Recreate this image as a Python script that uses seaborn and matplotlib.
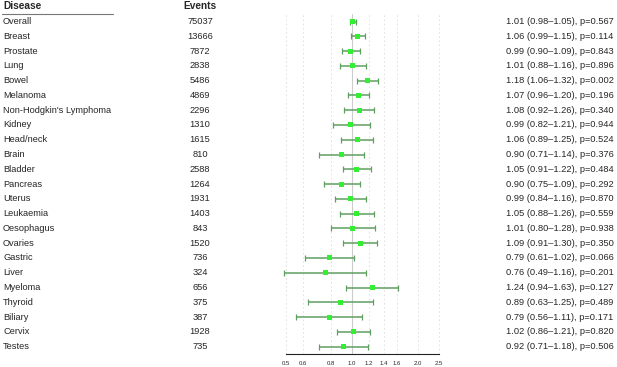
import numpy as np
import pandas as pd
import seaborn as sns
import matplotlib.pyplot as plt
from matplotlib.transforms import blended_transform_factory

# 資料
diseases = ["Overall", "Breast", "Prostate", "Lung", "Bowel", "Melanoma",
            "Non-Hodgkin's Lymphoma", "Kidney", "Head/neck", "Brain", "Bladder",
            "Pancreas", "Uterus", "Leukaemia", "Oesophagus", "Ovaries", "Gastric",
            "Liver", "Myeloma", "Thyroid", "Biliary", "Cervix", "Testes"]
events = [75037, 13666, 7872, 2838, 5486, 4869, 2296, 1310, 1615, 810, 2588,
          1264, 1931, 1403, 843, 1520, 736, 324, 656, 375, 387, 1928, 735]
hr = [1.01, 1.06, 0.99, 1.01, 1.18, 1.07, 1.08, 0.99, 1.06, 0.90, 1.05,
      0.90, 0.99, 1.05, 1.01, 1.09, 0.79, 0.76, 1.24, 0.89, 0.79, 1.02, 0.92]
lower = [0.98, 0.99, 0.90, 0.88, 1.06, 0.96, 0.92, 0.82, 0.89, 0.71, 0.91,
         0.75, 0.84, 0.88, 0.80, 0.91, 0.61, 0.49, 0.94, 0.63, 0.56, 0.86, 0.71]
upper = [1.05, 1.15, 1.09, 1.16, 1.32, 1.20, 1.26, 1.21, 1.25, 1.14, 1.22,
         1.09, 1.16, 1.26, 1.28, 1.30, 1.02, 1.16, 1.63, 1.25, 1.11, 1.21, 1.18]
pvals = [0.567, 0.114, 0.843, 0.896, 0.002, 0.196, 0.340, 0.944, 0.524, 0.376, 0.484,
         0.292, 0.870, 0.559, 0.938, 0.350, 0.066, 0.201, 0.127, 0.489, 0.171, 0.820, 0.506]
xticks = [0.5, 0.6, 0.8, 1.0, 1.2, 1.4, 1.6, 2.0, 2.5]

df = pd.DataFrame({"disease": diseases, "events": events, "hr": hr,
                   "lower": lower, "upper": upper, "p": pvals})
df["row"] = np.arange(len(df))

sns.set_style("white")
plt.rcParams["font.family"] = ["Liberation Sans", "DejaVu Sans"]
fs = 6.7

fig = plt.figure(figsize=(6.17, 3.67), dpi=100)
ax = fig.add_axes([0.4567, 0.0354, 0.2583, 0.926])

# 格線
for t in xticks:
    if t == 1.0:
        ax.axvline(t, color="#cccccc", lw=0.8, zorder=0)
    else:
        ax.axvline(t, color="#dddddd", lw=0.6, ls=(0, (2, 3)), zorder=0)

# 信賴區間
ax.errorbar(df["hr"], df["row"],
            xerr=[df["hr"] - df["lower"], df["upper"] - df["hr"]],
            fmt="none", ecolor="#5f9f5f", elinewidth=1.1, capsize=2.0,
            capthick=0.9, zorder=2)
sns.scatterplot(data=df, x="hr", y="row", marker="s", s=13, color="#33ee33",
                edgecolor="none", ax=ax, zorder=3)

ax.set_xscale("log")
ax.set_xlim(0.48, 2.55)
ax.set_ylim(len(df) - 0.5, -0.5)
ax.set_xticks(xticks)
ax.set_xticklabels([f"{t:.1f}" for t in xticks], fontsize=4.3)
ax.minorticks_off()
ax.set_yticks([])
ax.set_xlabel("")
ax.set_ylabel("")
for s in ["top", "right", "left"]:
    ax.spines[s].set_visible(False)
ax.spines["bottom"].set_bounds(0.5, 2.5)
ax.spines["bottom"].set_linewidth(0.8)
ax.spines["bottom"].set_color("#222222")
ax.tick_params(axis="x", direction="out", length=3, width=0.8, pad=2, color="#222222")

# 文字欄位
tr = blended_transform_factory(fig.transFigure, ax.transData)
for i, r in df.iterrows():
    ax.text(3 / 617, r["row"], r["disease"], transform=tr, fontsize=fs,
            ha="left", va="center", clip_on=False)
    ax.text(200 / 617, r["row"], str(r["events"]), transform=tr, fontsize=fs,
            ha="center", va="center", clip_on=False)
    ax.text(506 / 617, r["row"],
            f"{r['hr']:.2f} ({r['lower']:.2f}\u2013{r['upper']:.2f}), p={r['p']:.3f}",
            transform=tr, fontsize=fs, ha="left", va="center", clip_on=False)

fig.text(3 / 617, 1 - 6 / 367, "Disease", fontsize=fs + 0.6, fontweight="bold",
         ha="left", va="center")
fig.text(200 / 617, 1 - 6 / 367, "Events", fontsize=fs + 0.6, fontweight="bold",
         ha="center", va="center")
fig.add_artist(plt.Line2D([2 / 617, 113 / 617], [1 - 13.5 / 367] * 2,
                          transform=fig.transFigure, color="#777777", lw=0.8))

plt.savefig("out.png", dpi=100)
